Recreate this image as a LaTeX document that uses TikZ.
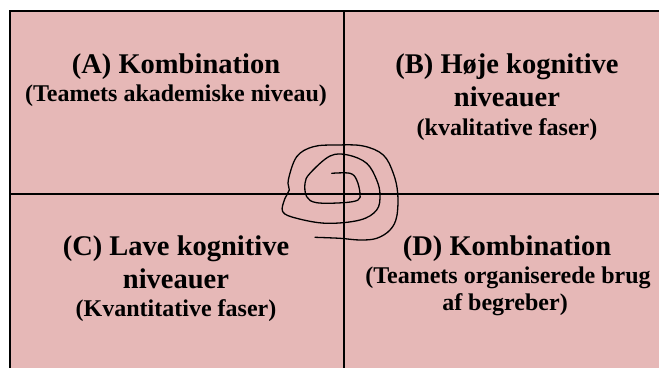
\documentclass[tikz,border=0pt]{standalone}
\usepackage{fontspec}
\setmainfont{Liberation Serif}
\definecolor{quadpink}{RGB}{230,184,183}
\begin{document}
\begin{tikzpicture}[x=1pt,y=-1pt,
  headline/.style={anchor=base,inner sep=0pt,font=\fontsize{28.5}{33}\selectfont\bfseries},
  subline/.style={anchor=base,inner sep=0pt,font=\fontsize{24}{28}\selectfont\bfseries},
  rule/.style={line width=2pt,black}]
\useasboundingbox (0,0) rectangle (659,368);
% background field and frame
\fill[quadpink] (10,11) rectangle (659,368);
\draw[rule] (10,368) -- (10,11) -- (659,11);
% quadrant dividers
\coordinate (vtop) at (344,11);
\coordinate (vbot) at (344,368);
\coordinate (hleft) at (10,194);
\coordinate (hright) at (659,194);
\draw[rule] (vtop) -- (vbot);
\draw[rule] (hleft) -- (hright);
% quadrant A
\node[headline] (aT) at (176,73) {(A) Kombination};
\node[subline] (aS) at (176,101.5) {(Teamets akademiske niveau)};
% quadrant B
\node[headline] (bT1) at (507,73) {(B) Høje kognitive};
\node[headline] (bT2) at (507,106.5) {niveauer};
\node[subline] (bS) at (507,135) {(kvalitative faser)};
% quadrant C
\node[headline] (cT1) at (176,255) {(C) Lave kognitive};
\node[headline] (cT2) at (176,288) {niveauer};
\node[subline] (cS) at (176,316.5) {(Kvantitative faser)};
% quadrant D
\node[headline] (dT) at (507,255) {(D) Kombination};
\node[subline] (dS1) at (508,283) {(Teamets organiserede brug};
\node[subline] (dS2) at (505,310) {af begreber)};
% hand-drawn spiral across the centre
\draw[line width=1.3pt,line cap=round,line join=round] plot[smooth,tension=0.6] coordinates {
  (331.7,173.3) (350,173.3) (356.7,180) (360,193.3) (358,200) (343,202.7)
  (316.7,202.7) (306.7,196.7) (305,183.3) (310,173.3) (330,156) (348,155)
  (366.7,163.3) (376.7,180) (380,195) (376.7,210) (360,220) (326.7,223.3)
  (296.7,218.3) (282.7,211.7) (285,198.3) (289.3,190) (288.3,180) (296.7,156.7)
  (313.3,146.7) (336.7,145) (363.3,146) (383.3,155) (393.3,173.3) (397.7,193.3)
  (396.7,216.7) (390,230) (376.7,238.3) (360,240) (340,238.3) (315,237.3)};
\end{tikzpicture}
\end{document}
